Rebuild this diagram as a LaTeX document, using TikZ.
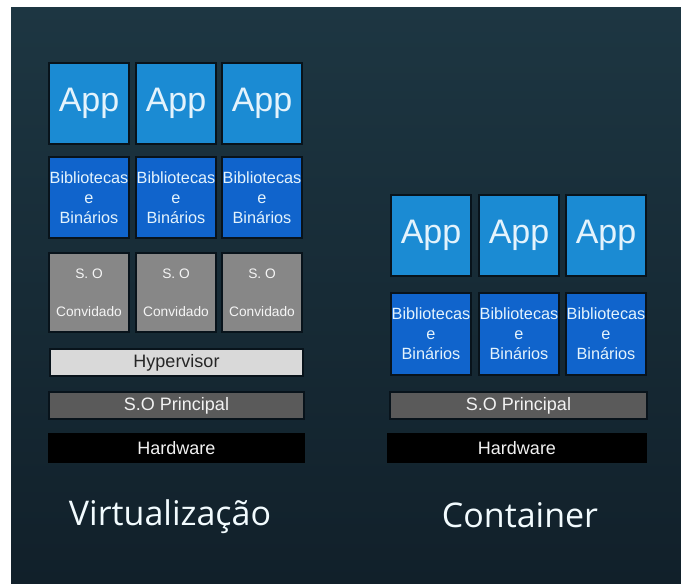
\documentclass[tikz,border=0pt]{standalone}
\usepackage{fontspec}
\setmainfont{Liberation Sans}
\newfontfamily\titlefont{Open Sans}
\definecolor{bgtop}{HTML}{1D3642}
\definecolor{bgbot}{HTML}{11202A}
\definecolor{edgedark}{HTML}{08131B}
\definecolor{appblue}{HTML}{1B8BD3}
\definecolor{libblue}{HTML}{1064CC}
\definecolor{guestgray}{HTML}{878787}
\definecolor{hypergray}{HTML}{D9D9D9}
\definecolor{hostgray}{HTML}{5A5A5A}
\definecolor{lighttext}{HTML}{E4F3FC}
\begin{document}
\begin{tikzpicture}[
    x=0.75pt, y=-0.75pt,
    layer/.style={draw=edgedark, line width=1.5pt, inner sep=0pt, align=center},
    appbox/.style={layer, fill=appblue, text=lighttext, minimum width=60pt, minimum height=61pt,
      font={\fontsize{25.5}{30}\selectfont}},
    libbox/.style={layer, fill=libblue, text=lighttext, minimum width=60pt, minimum height=61pt,
      font={\fontsize{12.2}{15}\selectfont}},
    guestbox/.style={layer, fill=guestgray, text=white!92!gray, minimum width=60pt, minimum height=59pt,
      font={\fontsize{10.3}{28.5}\selectfont}},
    bar/.style={layer, minimum width=191pt, minimum height=20.5pt, font={\fontsize{13.5}{16}\selectfont}},
    title/.style={text=white!95!cyan, font={\titlefont\fontsize{25.5}{30}\selectfont}}
]
  \useasboundingbox (0,0) rectangle (681,583);
  \fill[white] (0,0) rectangle (681,583);
  \shade[top color=bgtop, bottom color=bgbot] (11,7) rectangle (681,583);
  % --- Virtualizacao: apps on guest systems over a hypervisor ------------
  \foreach \i/\cx in {1/89, 2/176, 3/262} {
    \node[appbox] (vapp\i) at (\cx, 103.5) {App};
    \node[libbox] (vlib\i) at (\cx, 197.5) {Bibliotecas\\e\\Binários};
    \node[guestbox] (vguest\i) at (\cx, 292.5) {S. O\\Convidado};
  }
  \node[bar, fill=hypergray, text=black!85, minimum width=190pt] (hyper) at (176.5, 362.5) {Hypervisor};
  \node[bar, fill=hostgray, text=white!90!gray] (vhost) at (176.5, 405.5) {S.O Principal};
  \node[bar, fill=black, draw=black, text=white!90!gray] (vhw) at (176.5, 448) {Hardware};
  \node[title] (vtitle) at (170, 517) {Virtualização};
  % --- Container: apps share the host system -----------------------------
  \foreach \i/\cx in {1/431, 2/519, 3/606} {
    \node[appbox] (capp\i) at (\cx, 235.5) {App};
    \node[libbox] (clib\i) at (\cx, 334) {Bibliotecas\\e\\Binários};
  }
  \node[bar, fill=hostgray, text=white!90!gray, minimum width=193pt] (chost) at (518.5, 405.5) {S.O Principal};
  \node[bar, fill=black, draw=black, text=white!90!gray, minimum width=193pt] (chw) at (517, 448) {Hardware};
  \node[title] (ctitle) at (520, 515) {Container};
\end{tikzpicture}
\end{document}
